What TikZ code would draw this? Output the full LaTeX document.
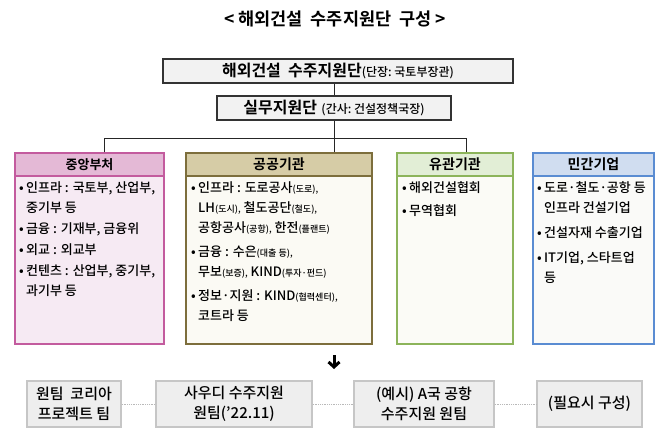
\documentclass[tikz,border=0pt]{standalone}
\usepackage{fontspec}
\setmainfont{Noto Sans CJK KR Medium}[BoldFont={Noto Sans CJK KR Bold}]
\usetikzlibrary{arrows.meta}

\definecolor{pinkline}{HTML}{C35B9E}
\definecolor{pinkhead}{HTML}{E4B9D6}
\definecolor{pinkbody}{HTML}{F6EAF3}
\definecolor{goldline}{HTML}{7D6E3C}
\definecolor{goldhead}{HTML}{D6CCA6}
\definecolor{goldbody}{HTML}{FBFAF4}
\definecolor{greenline}{HTML}{8CB45A}
\definecolor{greenhead}{HTML}{E2EED6}
\definecolor{greenbody}{HTML}{FBFBF6}
\definecolor{blueline}{HTML}{5A8CD2}
\definecolor{bluehead}{HTML}{D0DDF0}
\definecolor{bluebody}{HTML}{FAFAF8}

\newcommand{\sm}[1]{{\fontsize{9}{10}\selectfont #1}}
\newcommand{\bul}{\makebox[7pt][l]{•}}
\newcommand{\nobul}{\makebox[7pt]{}}

\tikzset{
  topbox/.style={draw=black!80, fill=gray!10, line width=1.4pt, inner sep=0pt, minimum height=24pt},
  colhead/.style n args={2}{draw=#1, fill=#2, line width=1.2pt, inner sep=0pt, minimum height=23pt,
    font=\fontsize{14}{15}\selectfont\bfseries},
  colbody/.style n args={2}{draw=#1, fill=#2, line width=1.2pt, inner sep=0pt, minimum height=191pt},
  coltext/.style={anchor=north west, align=left, inner sep=0pt, font=\fontsize{13}{20}\selectfont},
  teambox/.style={draw=gray!45, fill=gray!13, line width=1.4pt, inner sep=0pt, minimum height=46pt,
    align=center, font=\fontsize{15}{20}\selectfont},
  tree/.style={black!85, line width=0.9pt},
  link/.style={gray!55, densely dotted, line width=0.8pt}
}

\begin{document}
\begin{tikzpicture}[x=1pt, y=-1pt]
\useasboundingbox (0,0) rectangle (670,444);

% title
\node[font=\fontsize{17.5}{20}\selectfont\bfseries] (title) at (335,19) {<\ 해외건설\ \ 수주지원단\ \ 구성\ >};

% head of the organisation
\node[topbox, minimum width=350pt] (chief) at (338,71)
  {{\fontsize{16}{18}\selectfont\bfseries 해외건설\ \ 수주지원단}{\fontsize{12}{13}\selectfont (단장:\ 국토부장관)}};
\node[topbox, minimum width=234pt] (staff) at (334,108)
  {{\fontsize{16}{18}\selectfont\bfseries 실무지원단}\ \ {\fontsize{12}{13}\selectfont (간사:\ 건설정책국장)}};

% four member groups
\node[colbody={pinkline}{pinkbody}, minimum width=149pt] (centbody) at (89.5,248.5) {};
\node[colhead={pinkline}{pinkhead}, minimum width=149pt, font=\fontsize{13}{14}\selectfont\bfseries] (cent) at (89.5,164.5) {중앙부처};
\node[coltext] (centtext) at (19,181) {%
  \bul 인프라 : 국토부, 산업부,\\ \nobul 중기부 등\\[1pt]
  \bul 금융 : 기재부, 금융위\\[1pt]
  \bul 외교 : 외교부\\[1pt]
  \bul 컨텐츠 : 산업부, 중기부,\\ \nobul 과기부 등};

\node[colbody={goldline}{goldbody}, minimum width=186pt] (pubbody) at (279,248.5) {};
\node[colhead={goldline}{goldhead}, minimum width=186pt] (pub) at (279,164.5) {공공기관};
\node[coltext] (pubtext) at (191,181) {%
  \bul 인프라 : 도로공사\sm{(도로),}\\ \nobul LH\sm{(도시),} 철도공단\sm{(철도),}\\ \nobul 공항공사\sm{(공항),} 한전\sm{(플랜트)}\\[4pt]
  \bul 금융 : 수은\sm{(대출 등),}\\ \nobul 무보\sm{(보증),} KIND\sm{(투자·펀드)}\\[4pt]
  \bul 정보·지원 : KIND\sm{(협력센터),}\\ \nobul 코트라 등};

\node[colbody={greenline}{greenbody}, minimum width=116pt] (relbody) at (455,248.5) {};
\node[colhead={greenline}{greenhead}, minimum width=116pt] (rel) at (455,164.5) {유관기관};
\node[coltext] (reltext) at (402,181) {%
  \bul 해외건설협회\\[3pt]
  \bul 무역협회};

\node[colbody={blueline}{bluebody}, minimum width=121pt] (privbody) at (593.5,248.5) {};
\node[colhead={blueline}{bluehead}, minimum width=121pt] (priv) at (593.5,164.5) {민간기업};
\node[coltext] (privtext) at (537,181) {%
  \bul 도로·철도·공항 등\\ \nobul 인프라 건설기업\\[5pt]
  \bul 건설자재 수출기업\\[5pt]
  \bul IT기업, 스타트업\\ \nobul 등};

% tree lines
\coordinate (barL) at (104,138);
\coordinate (barR) at (466,138);
\draw[tree] (chief.south -| staff.north) -- (staff.north);
\draw[tree] (staff.south) -- (staff.south |- pub.north);
\draw[tree] (barL |- cent.north) -- (barL) -- (barR) -- (barR |- rel.north);

% arrow down to the teams
\coordinate (arrTop) at (334,355);
\coordinate (arrBot) at (334,369);
\draw[black, line width=3pt, -{Straight Barb[length=5pt, width=11pt]}] (arrTop) -- (arrBot);

% one-team row
\node[teambox, minimum width=94pt] (team1) at (74,404) {원팀~~코리아\\프로젝트 팀};
\node[teambox, minimum width=156pt] (team2) at (234,404) {사우디 수주지원\\원팀(’22.11)};
\node[teambox, minimum width=140pt] (team3) at (424,404) {(예시) A국 공항\\수주지원 원팀};
\node[teambox, minimum width=105pt] (team4) at (589.5,404) {(필요시 구성)};
\draw[link] (team1) -- (team2);
\draw[link] (team2) -- (team3);
\draw[link] (team3) -- (team4);
\end{tikzpicture}
\end{document}
